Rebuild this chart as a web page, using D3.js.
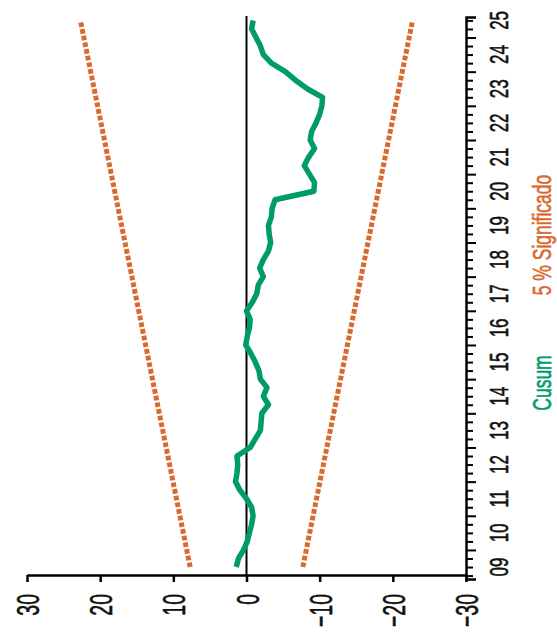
<!DOCTYPE html>
<html>
<head>
<meta charset="utf-8">
<script src="https://cdn.jsdelivr.net/npm/d3@7"></script>
<style>
  body { margin: 0; background: #fff; }
  svg { display: block; }
  .lbl { font-family: "Liberation Sans", Arial, sans-serif; font-size: 25px; stroke-width: 0.6px; }
  .val { font-size: 32px; }
</style>
</head>
<body>
<svg id="chart" width="557" height="635"></svg>
<script>
// quarterly CUSUM, first point = 2009 start of the series
const cusum = [
  1.4, 1.1, 0.4, -0.1, -0.4, -0.7, -0.9, -0.7,
  0.0, 0.9, 1.5, 1.3, 1.2, 1.3, -0.5, -1.2,
  -1.9, -2.0, -2.1, -3.0, -2.3, -2.8, -1.9, -1.7,
  -1.2, -0.6, 0.1, -0.1, -0.4, -0.5, 0.0, -0.8,
  -1.4, -1.6, -2.3, -1.8, -2.3, -3.0, -3.3, -3.1,
  -3.0, -3.4, -3.5, -3.9, -9.2, -9.3, -8.6, -7.9,
  -8.5, -9.3, -8.7, -8.9, -9.5, -10.0, -10.3, -10.4,
  -8.3, -6.7, -5.3, -3.4, -2.3, -1.9, -1.3, -0.7,
  -0.9
];
const upperBand = [7.7, 22.7];
const lowerBand = [-7.7, -22.7];
const yearLabels = ['09','10','11','12','13','14','15','16','17','18','19','20','21','22','23','24','25'];
const valueTicks = [30, 20, 10, 0, -10, -20, -30];
const seriesNames = ['Cusum', '5 % Significado'];

const GREEN = '#009b6c';
const ORANGE = '#d9692f';
const SQUEEZE = 'scale(0.68,1)';

const svg = d3.select('#chart');

// chart is drawn turned: time runs upwards, values run right-to-left
const xScale = d3.scaleLinear().domain([30, -30]).range([27, 466]);
const tScale = d3.scaleLinear().domain([-1.4, 64.4]).range([579, 17]);
const last = cusum.length - 1;

// value axis (bottom)
const xAxis = d3.axisBottom(xScale).tickValues(valueTicks).tickSize(7).tickSizeOuter(0);
const gx = svg.append('g').attr('transform', 'translate(0,575)').call(xAxis);
gx.attr('font-size', null).attr('font-family', null);
gx.select('.domain').attr('stroke-width', 2.5);
gx.selectAll('.tick line').attr('stroke-width', 2.5);
gx.selectAll('.tick text')
  .attr('class', 'lbl val')
  .attr('fill', '#111')
  .attr('stroke', '#111')
  .attr('x', 0).attr('y', 0).attr('dy', '0.36em')
  .attr('text-anchor', 'end')
  .attr('transform', 'translate(0,19) rotate(-90) scale(0.61,1)');

// time axis (right), one tick per quarter
const quarterTicks = d3.range(-1, 65);
const tAxis = d3.axisRight(tScale).tickValues(quarterTicks).tickSize(7).tickSizeOuter(10).tickFormat('');
const gt = svg.append('g').attr('transform', 'translate(466,0)').call(tAxis);
gt.select('.domain').attr('stroke-width', 2.5);
gt.selectAll('.tick line')
  .attr('stroke-width', 2)
  .attr('x2', d => ((d + 2) % 4 === 0 ? 10 : 7));

svg.append('g').selectAll('text')
  .data(yearLabels)
  .join('text')
  .attr('class', 'lbl')
  .attr('fill', '#111')
  .attr('stroke', '#111')
  .attr('text-anchor', 'middle')
  .attr('dy', '0.36em')
  .attr('transform', (d, i) => `translate(499,${tScale(i * 4)}) rotate(-90) ${SQUEEZE}`)
  .text(d => d);

// zero line
svg.append('line')
  .attr('x1', xScale(0)).attr('x2', xScale(0))
  .attr('y1', 16).attr('y2', 575)
  .attr('stroke', '#000').attr('stroke-width', 2);

// significance bands
const bandLine = d3.line()
  .x(d => xScale(d))
  .y((d, i) => tScale(i * last));

[upperBand, lowerBand].forEach(b => {
  svg.append('path')
    .attr('d', bandLine(b))
    .attr('fill', 'none')
    .attr('stroke', ORANGE)
    .attr('stroke-width', 5)
    .attr('stroke-dasharray', '4.7,2.1');
});

// cusum
const line = d3.line()
  .x(d => xScale(d))
  .y((d, i) => tScale(i));

svg.append('path')
  .attr('d', line(cusum))
  .attr('fill', 'none')
  .attr('stroke', GREEN)
  .attr('stroke-width', 5.5)
  .attr('stroke-linejoin', 'round');

// legend
const legend = [
  {name: seriesNames[0], color: GREEN, y: 383},
  {name: seriesNames[1], color: ORANGE, y: 235}
];
svg.append('g').selectAll('text')
  .data(legend)
  .join('text')
  .attr('class', 'lbl')
  .attr('fill', d => d.color)
  .attr('stroke', d => d.color)
  .attr('text-anchor', 'middle')
  .attr('dy', '0.36em')
  .attr('transform', d => `translate(542,${d.y}) rotate(-90) scale(0.7,1)`)
  .text(d => d.name);
</script>
</body>
</html>
